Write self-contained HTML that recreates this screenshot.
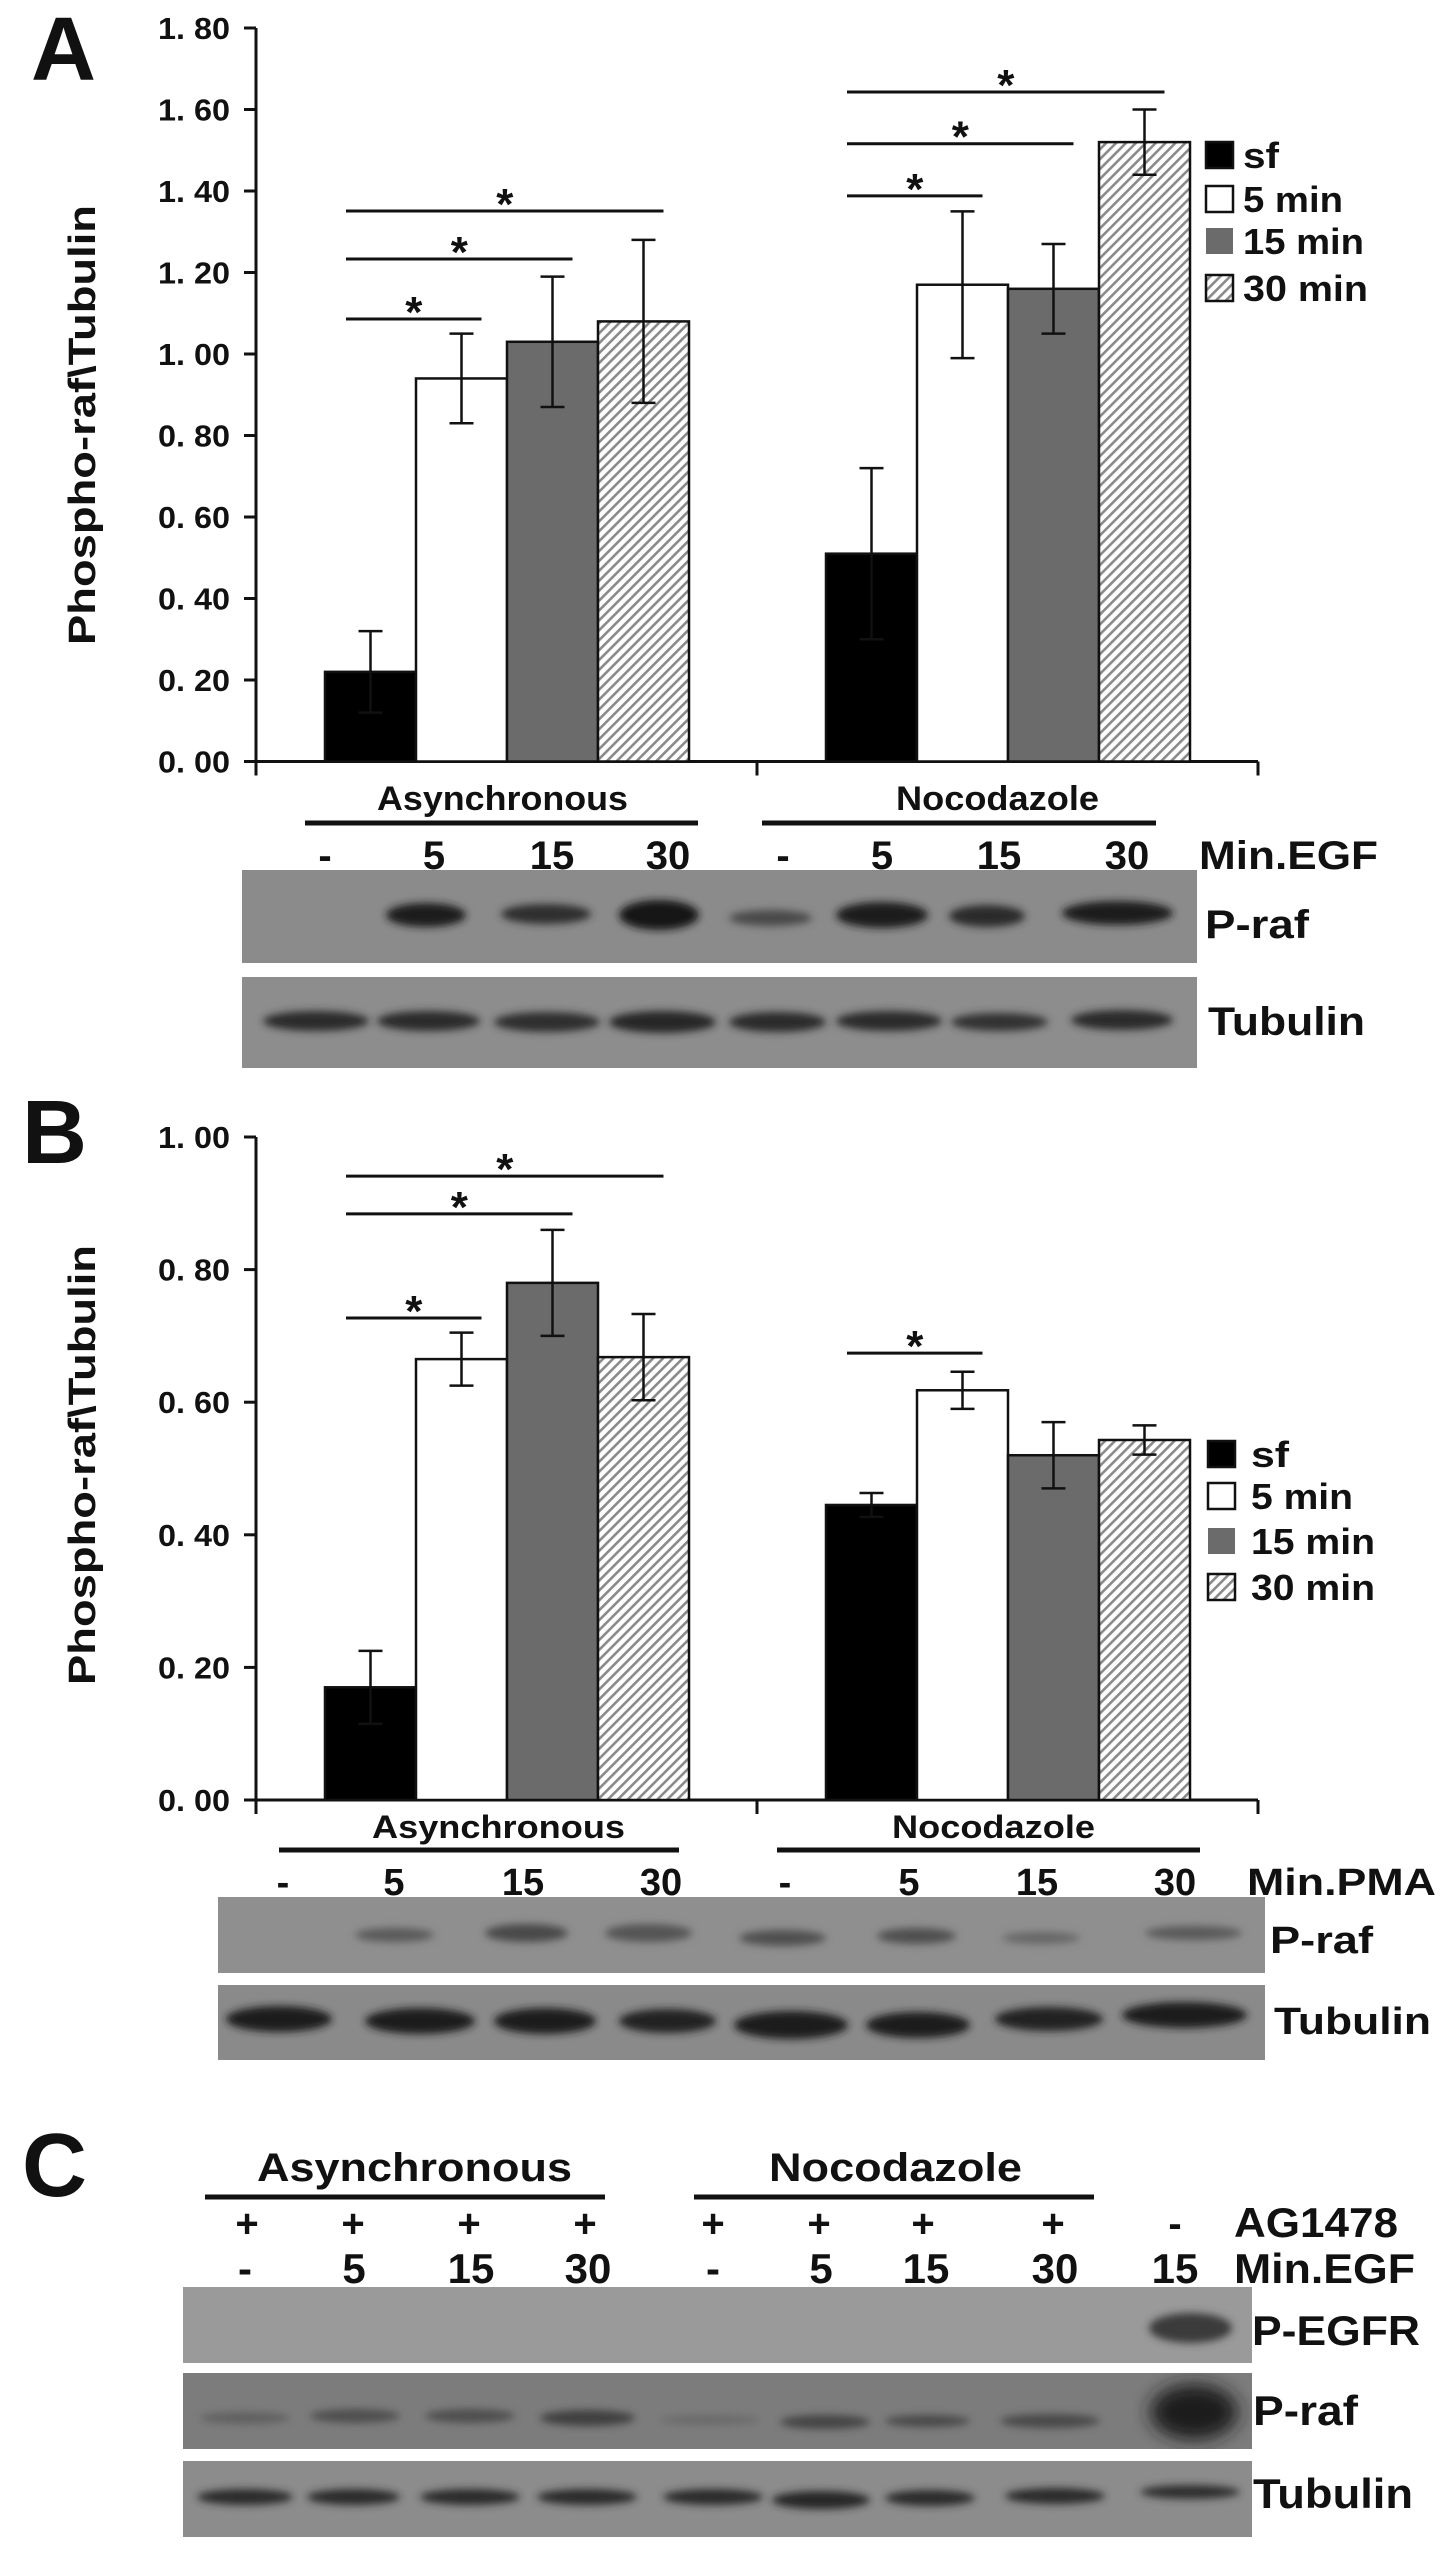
<!DOCTYPE html>
<html><head><meta charset="utf-8"><style>
html,body{margin:0;padding:0;background:#fff}
svg{display:block}
text{font-family:"Liberation Sans",Arial,sans-serif;font-weight:bold;fill:#111}
</style></head><body>
<svg id="fig" width="1441" height="2555" viewBox="0 0 1441 2555" xmlns="http://www.w3.org/2000/svg">
<defs>
<pattern id="hatch" patternUnits="userSpaceOnUse" width="7" height="7" patternTransform="rotate(45)">
<rect width="7" height="7" fill="#fff"/><rect x="0" y="0" width="2.6" height="7" fill="#8a8a8a"/>
</pattern>
<filter id="blur4" x="-50%" y="-100%" width="200%" height="300%"><feGaussianBlur stdDeviation="4"/></filter>
<filter id="blur8" x="-50%" y="-100%" width="200%" height="300%"><feGaussianBlur stdDeviation="9"/></filter>
</defs>
<g id="root"></g>
</svg>
<script>
// ---- Data ----
const groups = ["Asynchronous", "Nocodazole"];
const seriesNames = ["sf", "5 min", "15 min", "30 min"];
const aAsync = [0.22, 0.94, 1.03, 1.08];
const aAsyncErr = [0.10, 0.11, 0.16, 0.20];
const aNoc = [0.51, 1.17, 1.16, 1.52];
const aNocErr = [0.21, 0.18, 0.11, 0.08];
const aTicks = ["0. 00","0. 20","0. 40","0. 60","0. 80","1. 00","1. 20","1. 40","1. 60","1. 80"];
const aTickVals = [0,0.2,0.4,0.6,0.8,1.0,1.2,1.4,1.6,1.8];
// significance: [group, toBar, level]
const aSig = [[0,1,1.086],[0,2,1.233],[0,3,1.351],[1,1,1.388],[1,2,1.516],[1,3,1.643]];
const bAsync = [0.17, 0.665, 0.78, 0.668];
const bAsyncErr = [0.055, 0.04, 0.08, 0.065];
const bNoc = [0.445, 0.618, 0.52, 0.543];
const bNocErr = [0.018, 0.028, 0.05, 0.022];
const bTicks = ["0. 00","0. 20","0. 40","0. 60","0. 80","1. 00"];
const bTickVals = [0,0.2,0.4,0.6,0.8,1.0];
const bSig = [[0,1,0.727],[0,2,0.884],[0,3,0.941],[1,1,0.674]];
const lanesA = ["-","5","15","30","-","5","15","30"];
const lanesB = ["-","5","15","30","-","5","15","30"];
const lanesC = ["-","5","15","30","-","5","15","30","15"];
const agC = ["+","+","+","+","+","+","+","+","-"];

const NS = "http://www.w3.org/2000/svg";
const root = document.getElementById("root");
function mk(tag, attrs, parent) {
  const e = document.createElementNS(NS, tag);
  for (const k in attrs) e.setAttribute(k, attrs[k]);
  (parent || root).appendChild(e);
  return e;
}
function txt(s, x, y, size, opts, parent) {
  opts = opts || {};
  const a = {x: x, y: y, "font-size": size};
  if (opts.anchor) a["text-anchor"] = opts.anchor;
  if (opts.len) { a.textLength = opts.len; a.lengthAdjust = "spacingAndGlyphs"; }
  if (opts.transform) a.transform = opts.transform;
  const t = mk("text", a, parent);
  t.textContent = s;
  return t;
}
const fills = ["#000", "#fff", "#6b6b6b", "url(#hatch)"];

function chart(cfg) {
  const g = mk("g", {});
  
  
  const x0 = 256, x1 = 1258, band = 501, bw = 91, off = 69;
  const y = v => cfg.y0 - v * cfg.k;
  const bx = (gi, i) => x0 + gi * band + off + i * bw;
  const ax = mk("g", {}, g);
  
  
  mk("line", {x1: x0, y1: y(cfg.tickVals[cfg.tickVals.length-1]), x2: x0, y2: cfg.y0 + 14, stroke: "#111", "stroke-width": 3}, ax);
  cfg.tickVals.forEach((v, i) => {
    mk("line", {x1: x0 - 12, y1: y(v), x2: x0, y2: y(v), stroke: "#111", "stroke-width": 3}, ax);
    const t = txt(cfg.ticks[i], 230, y(v) + 11, 31, {anchor: "end", len: 72}, ax);
    
    
  });
  const xa = mk("g", {}, g);
  
  
  mk("line", {x1: x0, y1: cfg.y0, x2: x1, y2: cfg.y0, stroke: "#111", "stroke-width": 3}, xa);
  [x0, x0 + band, x1].forEach(xx => mk("line", {x1: xx, y1: cfg.y0, x2: xx, y2: cfg.y0 + 14, stroke: "#111", "stroke-width": 3}, xa));
  const tt = txt("Phospho-raf\\Tubulin", 0, 0, 38, {anchor: "middle", len: 440, transform: "translate(95," + cfg.titleY + ") rotate(-90)"}, g);
  
  
  const data = [cfg.v0, cfg.v1], errs = [cfg.e0, cfg.e1];
  data.forEach((vals, gi) => {
    vals.forEach((v, i) => {
      const r = mk("rect", {x: bx(gi, i), y: y(v), width: bw, height: cfg.y0 - y(v), fill: fills[i], stroke: "#111", "stroke-width": 2.5}, g);
      
      
      const cx = bx(gi, i) + bw / 2, e = errs[gi][i];
      const eb = mk("path", {d: "M" + cx + " " + y(v - e) + "V" + y(v + e) + "M" + (cx - 12) + " " + y(v + e) + "H" + (cx + 12) + "M" + (cx - 12) + " " + y(v - e) + "H" + (cx + 12), stroke: "#111", "stroke-width": 2.5, fill: "none"}, g);
      
      
    });
  });
  cfg.sig.forEach(s => {
    const xs = bx(s[0], 0) + 21, xe = bx(s[0], s[1]) + bw / 2 + 20;
    const l = mk("line", {x1: xs, y1: y(s[2]), x2: xe, y2: y(s[2]), stroke: "#111", "stroke-width": 3}, g);
    
    
    const a = txt("*", (xs + xe) / 2, y(s[2]) + 8, 44, {anchor: "middle"}, g);
    
    
  });
  const lg = mk("g", {}, g);
  
  
  seriesNames.forEach((n, i) => {
    const cy = cfg.leg.rows[i];
    mk("rect", {x: cfg.leg.bx, y: cy - 13, width: 27, height: 26, fill: fills[i], stroke: i === 2 ? "none" : "#111", "stroke-width": 2.5}, lg);
    const t = txt(n, cfg.leg.tx, cy + 13, 36, {len: cfg.leg.lens[i]}, lg);
    
    
  });
}

chart({name: "chart-a", y0: 761.5, k: 407.5, ticks: aTicks, tickVals: aTickVals, titleY: 425,
  v0: aAsync, v1: aNoc, e0: aAsyncErr, e1: aNocErr, sig: aSig,
  leg: {bx: 1206, tx: 1243, rows: [155, 199, 241, 288], lens: [36, 100, 121, 125]}});
chart({name: "chart-b", y0: 1800, k: 663, ticks: bTicks, tickVals: bTickVals, titleY: 1465,
  v0: bAsync, v1: bNoc, e0: bAsyncErr, e1: bNocErr, sig: bSig,
  leg: {bx: 1208, tx: 1251, rows: [1454, 1496, 1541, 1587], lens: [38, 102, 124, 124]}});

[["A", 31, 80], ["B", 22, 1163], ["C", 22, 2196]].forEach(p => {
  const t = txt(p[0], p[1], p[2], 90, {});
  
  
});

function groupLabel(s, x, y, len, lx1, lx2, ly, size) {
  const t = txt(s, x, y, size, {len: len});
  
  
  const l = mk("line", {x1: lx1, y1: ly, x2: lx2, y2: ly, stroke: "#111", "stroke-width": 5});
  
  
}
groupLabel("Asynchronous", 377, 810, 251, 305, 698, 823, 34);
groupLabel("Nocodazole", 896, 810, 203, 762, 1156, 823, 34);
groupLabel("Asynchronous", 372, 1838, 253, 279, 679, 1850, 32);
groupLabel("Nocodazole", 892, 1838, 203, 777, 1200, 1850, 32);
groupLabel("Asynchronous", 257, 2181, 315, 205, 605, 2197, 40);
groupLabel("Nocodazole", 769, 2181, 253, 694, 1094, 2197, 40);

function laneRow(labels, xs, y, size, name) {
  labels.forEach((s, i) => {
    const t = txt(s, xs[i], y, size, {anchor: "middle"});
    
    
  });
}
const laneXA = [325, 434, 552, 668, 783, 882, 999, 1127];
const laneXB = [283, 394, 523, 661, 785, 909, 1037, 1175];
const laneXC = [245, 354, 471, 588, 713, 821, 926, 1055, 1175];
laneRow(lanesA, laneXA, 869, 40, 'lane-label');
laneRow(lanesB, laneXB, 1895, 38, 'lane-label');
laneRow(agC, [247, 353, 469, 585, 713, 819, 923, 1053, 1175], 2237, 40, 'ag1478-label');
laneRow(lanesC, laneXC, 2283, 42, 'lane-label');

function rowLabel(s, x, y, len, size) {
  const t = txt(s, x, y, size, {len: len});
  
  
}
rowLabel("Min.EGF", 1199, 869, 179, 40);
rowLabel("P-raf", 1205, 938, 104, 40);
rowLabel("Tubulin", 1208, 1035, 157, 40);
rowLabel("Min.PMA", 1247, 1895, 189, 38);
rowLabel("P-raf", 1270, 1953, 103, 38);
rowLabel("Tubulin", 1274, 2034, 157, 38);
rowLabel("AG1478", 1234, 2237, 164, 42);
rowLabel("Min.EGF", 1234, 2283, 181, 42);
rowLabel("P-EGFR", 1252, 2345, 168, 42);
rowLabel("P-raf", 1253, 2425, 105, 42);
rowLabel("Tubulin", 1253, 2508, 160, 42);

function blot(name, x, y, w, h, bg, bands) {
  const g = mk("g", {});
  
  
  mk("rect", {x: x, y: y, width: w, height: h, fill: bg}, g);
  const cp = mk("clipPath", {id: name + "-clip"}, g);
  mk("rect", {x: x, y: y, width: w, height: h}, cp);
  const cg = mk("g", {"clip-path": "url(#" + name + "-clip)"}, g);
  bands.forEach(b => {
    const e = mk("ellipse", {cx: (b[0] + b[1]) / 2, cy: b[2], rx: (b[1] - b[0]) / 2, ry: b[3], fill: b[4], filter: b[5] ? "url(#blur8)" : "url(#blur4)"}, cg);
    
    
  });
}
blot("blot-a-praf", 242, 870, 955, 93, "#8b8b8b", [
  [386,466,915,12,"#1e1e1e"],[501,591,914,10,"#2e2e2e"],[619,699,915,15,"#161616"],
  [729,812,918,8,"#4a4a4a"],[836,928,915,13,"#1e1e1e"],[949,1025,916,11,"#2a2a2a"],[1062,1173,913,12,"#1e1e1e"]]);
blot("blot-a-tubulin", 242, 977, 955, 91, "#8d8d8d", [
  [263,369,1021,10,"#2a2a2a"],[377,480,1021,10,"#2a2a2a"],[494,600,1022,10,"#2e2e2e"],[609,716,1022,11,"#262626"],
  [729,826,1022,10,"#2a2a2a"],[836,942,1021,10,"#2a2a2a"],[951,1048,1022,9,"#333"],[1071,1173,1020,10,"#2a2a2a"]]);
blot("blot-b-praf", 218, 1897, 1047, 76, "#8f8f8f", [
  [355,434,1935,7,"#5a5a5a"],[485,568,1933,9,"#4a4a4a"],[605,692,1933,9,"#555"],
  [739,826,1938,8,"#505050"],[877,956,1936,8,"#505050"],[1002,1080,1938,6,"#666"],[1145,1242,1933,7,"#5a5a5a"]]);
blot("blot-b-tubulin", 218, 1985, 1047, 75, "#8a8a8a", [
  [226,332,2019,13,"#1e1e1e"],[365,475,2021,13,"#1e1e1e"],[494,596,2021,13,"#1e1e1e"],[619,716,2021,12,"#222"],
  [734,848,2025,14,"#1a1a1a"],[866,970,2025,13,"#1e1e1e"],[995,1103,2019,12,"#222"],[1122,1247,2015,13,"#1e1e1e"]]);
blot("blot-c-pegfr", 183, 2287, 1069, 76, "#9a9a9a", [
  [1149,1232,2328,15,"#3a3a3a"]]);
blot("blot-c-praf", 183, 2373, 1069, 76, "#7c7c7c", [
  [200,290,2418,6,"#606060"],[310,400,2416,7,"#505050"],[425,515,2416,7,"#505050"],[540,635,2418,8,"#404040"],
  [660,760,2420,5,"#6a6a6a"],[780,870,2422,7,"#444"],[885,970,2421,6,"#4a4a4a"],[1000,1100,2421,7,"#484848"],[1150,1238,2412,28,"#1a1a1a",1]]);
blot("blot-c-tubulin", 183, 2461, 1069, 76, "#8c8c8c", [
  [197,293,2497,8,"#2a2a2a"],[307,400,2497,8,"#2a2a2a"],[420,520,2497,8,"#2a2a2a"],[537,637,2497,8,"#2a2a2a"],
  [663,763,2497,8,"#2a2a2a"],[772,870,2500,9,"#262626"],[885,975,2498,8,"#2a2a2a"],[1005,1105,2496,8,"#2a2a2a"],[1140,1240,2492,7,"#2e2e2e"]]);
</script>
</body></html>
